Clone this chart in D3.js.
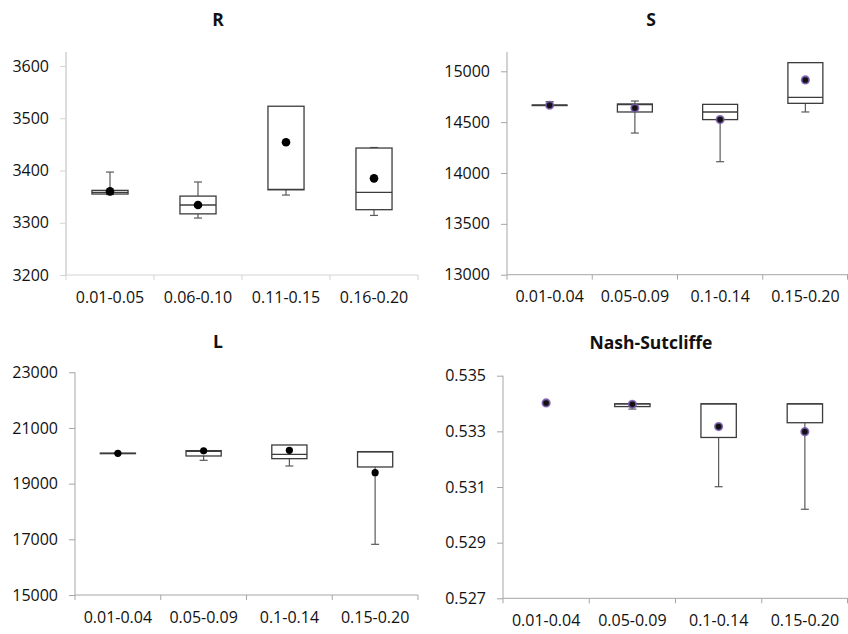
<!DOCTYPE html>
<html>
<head>
<meta charset="utf-8">
<script src="https://cdn.jsdelivr.net/npm/d3@7"></script>
<style>
  html, body { margin: 0; padding: 0; background: #fff; }
  svg { display: block; font-family: "Open Sans", "DejaVu Sans", sans-serif; }
</style>
</head>
<body>
<svg id="chart" width="848" height="634"></svg>
<script>
// ---------------- DATA ----------------
const catsR = ["0.01-0.05", "0.06-0.10", "0.11-0.15", "0.16-0.20"];
const catsOther = ["0.01-0.04", "0.05-0.09", "0.1-0.14", "0.15-0.20"];

// each row: [min, q1, median, q3, max, mean]
const statsR = [
  [3354, 3355, 3358, 3362, 3397, 3360],
  [3309, 3317, 3334, 3351, 3378, 3334],
  [3353, 3363, 3364, 3523, 3523, 3454],
  [3314, 3325, 3358, 3443, 3444, 3385]
];
const statsS = [
  [14660, 14664, 14666, 14668, 14702, 14666],
  [14393, 14600, 14672, 14679, 14708, 14639],
  [14111, 14525, 14600, 14675, 14675, 14525],
  [14600, 14685, 14744, 15085, 15085, 14915]
];
const statsL = [
  [20080, 20085, 20090, 20095, 20100, 20090],
  [19838, 19994, 20162, 20186, 20186, 20180],
  [19635, 19898, 20054, 20389, 20389, 20198],
  [16820, 19599, 20138, 20150, 20150, 19395]
];
const statsNS = [
  [0.53402, 0.53402, 0.53402, 0.53402, 0.53402, 0.53402],
  [0.53380, 0.53389, 0.53399, 0.53399, 0.53399, 0.53397],
  [0.53101, 0.53278, 0.53399, 0.53399, 0.53399, 0.53317],
  [0.53020, 0.53331, 0.53399, 0.53399, 0.53399, 0.53299]
];

const ticksR = [3200, 3300, 3400, 3500, 3600];
const ticksS = [13000, 13500, 14000, 14500, 15000];
const ticksL = [15000, 17000, 19000, 21000, 23000];
const ticksNS = [0.527, 0.529, 0.531, 0.533, 0.535];

const titles = ["R", "S", "L", "Nash-Sutcliffe"];

// ---------------- LAYOUT ----------------
const panels = [
  { title: titles[0], cats: catsR, stats: statsR, ticks: ticksR, fmt: d3.format("d"),
    left: 66, right: 418, bottom: 275, top: 66, axisTop: 52, titleX: 218, titleY: 19,
    axisColor: "#d4d4d4", axisWidth: 1.6, dot: "plain", dotR: 4.3 },
  { title: titles[1], cats: catsOther, stats: statsS, ticks: ticksS, fmt: d3.format("d"),
    left: 507, right: 848, bottom: 274.7, top: 71.3, axisTop: 52, titleX: 651, titleY: 19,
    axisColor: "#a6a6a6", axisWidth: 1, dot: "halo", dotR: 2.6 },
  { title: titles[2], cats: catsOther, stats: statsL, ticks: ticksL, fmt: d3.format("d"),
    left: 75, right: 418, bottom: 595, top: 372.3, axisTop: 372.3, titleX: 218, titleY: 341,
    axisColor: "#a6a6a6", axisWidth: 1, dot: "plain", dotR: 3.6 },
  { title: titles[3], cats: catsOther, stats: statsNS, ticks: ticksNS, fmt: d3.format(".3f"),
    left: 503, right: 848, bottom: 598.3, top: 375.7, axisTop: 375.7, titleX: 651, titleY: 342,
    axisColor: "#a6a6a6", axisWidth: 1, dot: "halo", dotR: 2.6 }
];

const svg = d3.select("#chart");
const textColor = "#111";
const boxColor = "#3c3c3c";
const whiskColor = "#5a5a5a";
const fs = 16;

panels.forEach(p => {
  const g = svg.append("g");
  const y = d3.scaleLinear()
    .domain([d3.min(p.ticks), d3.max(p.ticks)])
    .range([p.bottom, p.top]);
  const x = d3.scaleBand().domain(p.cats).range([p.left, p.right]).padding(0);
  const bw = x.bandwidth() * 0.41;

  // title
  g.append("text")
    .attr("x", p.titleX).attr("y", p.titleY)
    .attr("text-anchor", "middle").attr("dominant-baseline", "central")
    .attr("font-size", 17.5).attr("font-weight", "bold").attr("fill", textColor)
    .text(p.title);

  // y axis
  const yAxis = d3.axisLeft(y).tickValues(p.ticks).tickFormat(p.fmt)
    .tickSize(6).tickPadding(11);
  const ya = g.append("g").attr("transform", `translate(${p.left},0)`).call(yAxis);
  ya.select(".domain").remove();
  ya.selectAll(".tick line").attr("stroke", p.axisColor).attr("stroke-width", 1);
  ya.selectAll(".tick text").attr("font-size", fs).attr("fill", textColor)
    .attr("font-family", "'Open Sans', sans-serif");
  g.append("line")
    .attr("x1", p.left).attr("x2", p.left)
    .attr("y1", p.axisTop).attr("y2", p.bottom)
    .attr("stroke", p.axisColor).attr("stroke-width", p.axisWidth);

  // x axis
  const xAxis = d3.axisBottom(x).tickSize(0).tickPadding(0);
  const xa = g.append("g").attr("transform", `translate(0,${p.bottom})`).call(xAxis);
  xa.select(".domain").remove();
  xa.selectAll(".tick text")
    .attr("y", 22).attr("dy", "0.35em")
    .attr("font-size", fs).attr("fill", textColor)
    .attr("font-family", "'Open Sans', sans-serif");
  g.append("line")
    .attr("x1", p.left).attr("x2", p.right)
    .attr("y1", p.bottom).attr("y2", p.bottom)
    .attr("stroke", p.axisColor).attr("stroke-width", 1);
  const edges = p.cats.map(c => x(c)).concat([x(p.cats[p.cats.length - 1]) + x.bandwidth()]);
  g.selectAll(".xtick").data(edges).enter().append("line")
    .attr("x1", d => Math.min(d, 847.5)).attr("x2", d => Math.min(d, 847.5))
    .attr("y1", p.bottom).attr("y2", p.bottom + 5)
    .attr("stroke", p.axisColor).attr("stroke-width", 1);

  // boxes
  p.cats.forEach((c, i) => {
    const [mn, q1, md, q3, mx, mean] = p.stats[i];
    const cx = x(c) + x.bandwidth() / 2;
    const bg = g.append("g");
    if (mx > q3) {
      bg.append("line").attr("x1", cx).attr("x2", cx).attr("y1", y(q3)).attr("y2", y(mx))
        .attr("stroke", whiskColor).attr("stroke-width", 1.2);
      bg.append("line").attr("x1", cx - 4).attr("x2", cx + 4).attr("y1", y(mx)).attr("y2", y(mx))
        .attr("stroke", whiskColor).attr("stroke-width", 1.2);
    }
    if (mn < q1) {
      bg.append("line").attr("x1", cx).attr("x2", cx).attr("y1", y(q1)).attr("y2", y(mn))
        .attr("stroke", whiskColor).attr("stroke-width", 1.2);
      bg.append("line").attr("x1", cx - 4).attr("x2", cx + 4).attr("y1", y(mn)).attr("y2", y(mn))
        .attr("stroke", whiskColor).attr("stroke-width", 1.2);
    }
    if (q3 > q1) {
      bg.append("rect")
        .attr("x", cx - bw / 2).attr("y", y(q3))
        .attr("width", bw).attr("height", Math.max(0.5, y(q1) - y(q3)))
        .attr("fill", "#fff").attr("stroke", boxColor).attr("stroke-width", 1.3);
      bg.append("line").attr("x1", cx - bw / 2).attr("x2", cx + bw / 2)
        .attr("y1", y(md)).attr("y2", y(md))
        .attr("stroke", boxColor).attr("stroke-width", 1.3);
    }
    if (p.dot === "halo") {
      bg.append("circle").attr("cx", cx).attr("cy", y(mean)).attr("r", p.dotR + 1.1)
        .attr("fill", "#111").attr("stroke", "#7a5cb0").attr("stroke-width", 1.8)
        .attr("stroke-opacity", 0.85);
    } else {
      bg.append("circle").attr("cx", cx).attr("cy", y(mean)).attr("r", p.dotR)
        .attr("fill", "#000");
    }
  });
});
</script>
</body>
</html>
